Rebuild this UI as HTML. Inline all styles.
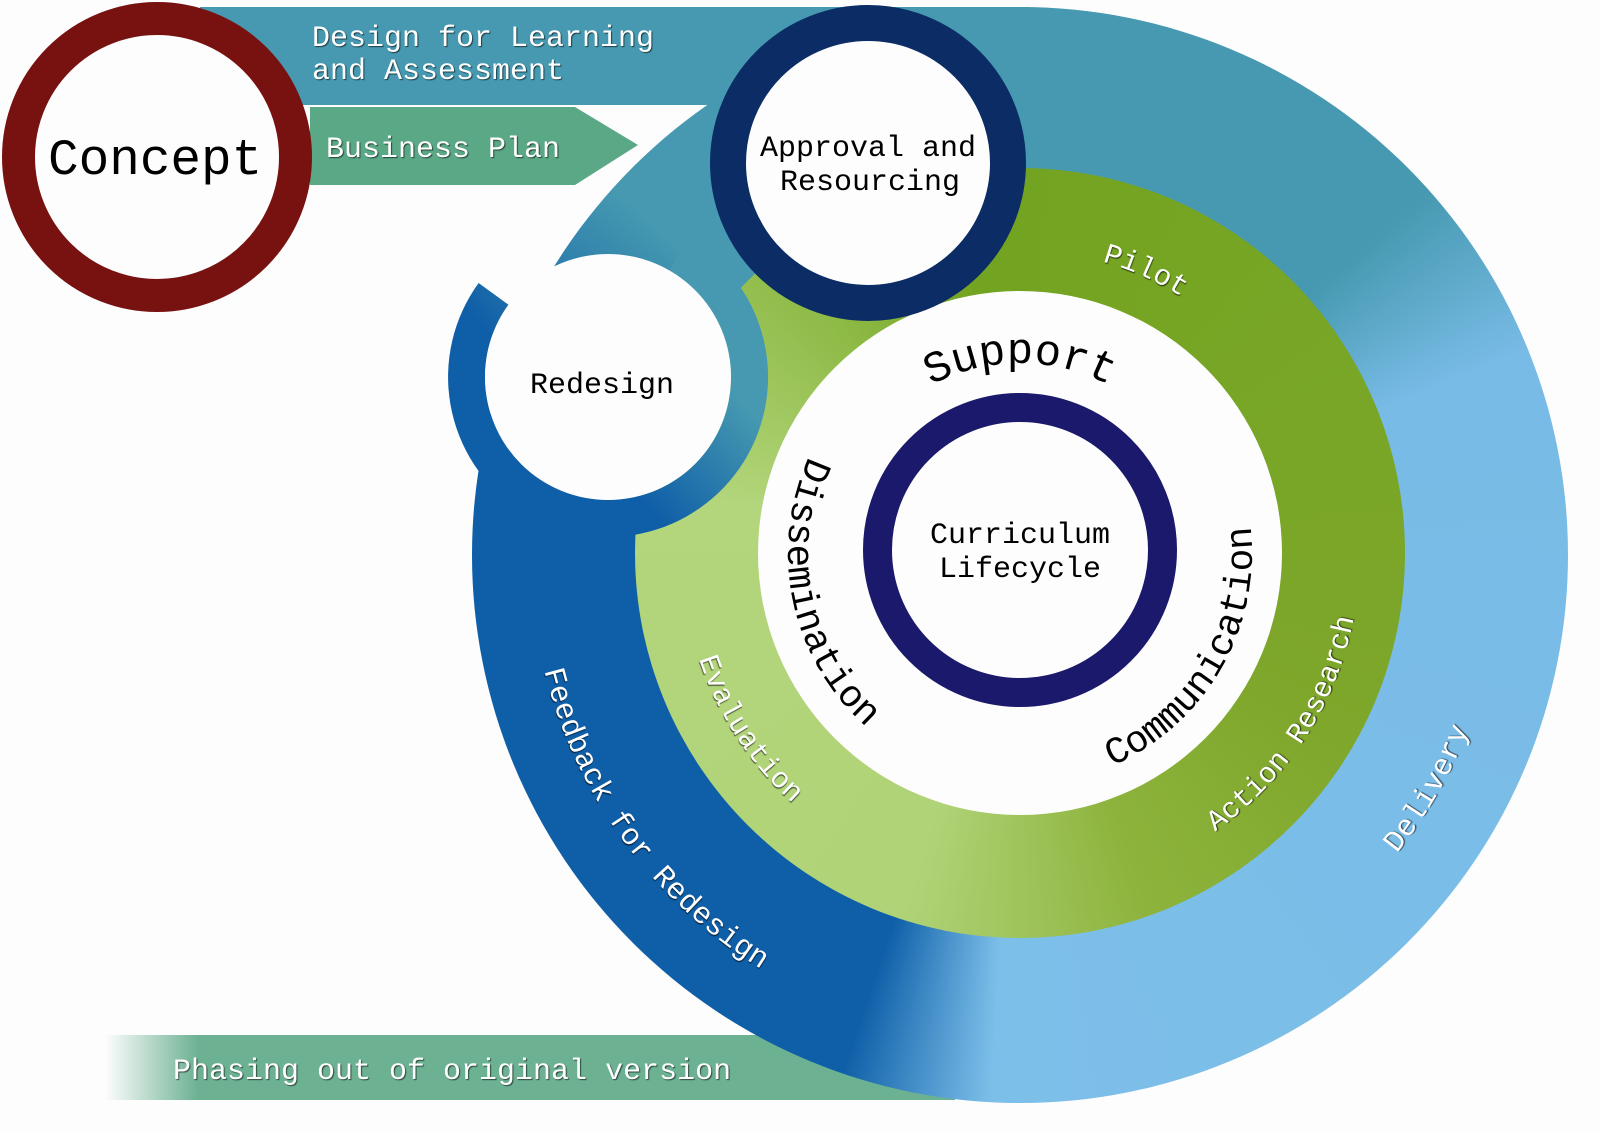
<!DOCTYPE html>
<html><head><meta charset="utf-8"><style>
html,body{margin:0;padding:0;background:#fdfdfd;}
#wrap{position:relative;width:1600px;height:1131px;overflow:hidden;background:#fdfdfd;}
svg{position:absolute;left:0;top:0;}
.ring{position:absolute;border-radius:50%;}
text{font-family:"Liberation Mono",monospace;}
.w{fill:#fff;text-shadow:1px 1px 1px rgba(0,0,0,0.6);}
.b{fill:#000;}
</style></head><body><div id="wrap">
<svg width="1600" height="1131" viewBox="0 0 1600 1131">
<defs>
<linearGradient id="ph" x1="105" y1="0" x2="955" y2="0" gradientUnits="userSpaceOnUse">
<stop offset="0" stop-color="#6bb192" stop-opacity="0"/>
<stop offset="0.11" stop-color="#6bb192" stop-opacity="1"/>
<stop offset="1" stop-color="#6bb192"/>
</linearGradient>
</defs>
<rect x="200" y="7" width="830" height="98" fill="#4699b0"/>
<polygon points="310,107 575,107 638,145 575,185 310,185" fill="#5aa886"/>
<rect x="105" y="1035" width="850" height="65" fill="url(#ph)"/>
</svg>
<div class="ring" style="left:472px;top:7px;width:1096px;height:1096px;background:conic-gradient(from 0deg,#4699b0 0deg,#4699b0 48deg,#78bbe6 68deg,#7cbfe9 183deg,#0f5fa8 199deg,#0f5ea8 290deg,#4699b0 312deg,#4699b0 360deg);"></div>
<div class="ring" style="left:635px;top:168px;width:770px;height:770px;background:conic-gradient(from 0deg,#73a421 0deg,#7ea72b 120deg,#8db33c 160deg,#b0d378 198deg,#b3d57b 280deg,#8fbb48 320deg,#73a421 350deg);"></div>
<svg width="1600" height="1131" viewBox="0 0 1600 1131">
<defs>
<linearGradient id="rd" x1="640" y1="500" x2="745" y2="405" gradientUnits="userSpaceOnUse">
<stop offset="0" stop-color="#0f5ea8"/>
<stop offset="1" stop-color="#4699b0"/>
</linearGradient>
<path id="pDis" d="M864.8,380.6 A232,232 0 0 0 948.3,773.7"/>
<path id="pCom" d="M1020,785 A232,232 0 0 0 1220.9,437"/>
<path id="pSup" d="M855.5,458 A190,190 0 0 1 1184.5,458"/>
<path id="pPil" d="M841.9,307.9 A303,303 0 0 1 1321.3,521.3"/>
<path id="pAct" d="M1002.2,892.5 A340,340 0 0 0 1322.9,398.6"/>
<path id="pDel" d="M1020,1035 A482,482 0 0 0 1437.4,312"/>
<path id="pEva" d="M718.8,399.6 A338,338 0 0 0 1037.7,890.5"/>
<path id="pFee" d="M572.4,353.7 A490,490 0 0 0 1071.2,1040.3"/>
</defs>
<circle cx="1020" cy="553" r="262" fill="#fdfdfd"/>
<circle cx="1020" cy="550" r="142.5" fill="#fdfdfd" stroke="#1b196b" stroke-width="29"/>
<path d="M688,238.4 A160,160 0 1 1 478.6,283 L508.5,304.7 A123,123 0 1 0 669.5,270.5 Z" fill="url(#rd)"/>
<circle cx="608" cy="377" r="123" fill="#fdfdfd"/>
<circle cx="868" cy="163" r="140" fill="#fdfdfd" stroke="#0b2c65" stroke-width="36"/>
<circle cx="157" cy="157" r="138.5" fill="#fdfdfd" stroke="#771211" stroke-width="33"/>

<text x="48" y="174" font-size="51" class="b">Concept</text>
<text x="312" y="46" font-size="30" class="w">Design for Learning</text>
<text x="312" y="79" font-size="30" class="w">and Assessment</text>
<text x="326" y="157" font-size="30" class="w">Business Plan</text>
<text x="173" y="1079" font-size="30" class="w">Phasing out of original version</text>
<text x="868" y="156" font-size="30" class="b" text-anchor="middle">Approval and</text>
<text x="870" y="190" font-size="30" class="b" text-anchor="middle">Resourcing</text>
<text x="602" y="393" font-size="30" class="b" text-anchor="middle">Redesign</text>
<text x="1020" y="543" font-size="30" class="b" text-anchor="middle">Curriculum</text>
<text x="1020" y="577" font-size="30" class="b" text-anchor="middle">Lifecycle</text>

<text font-size="44" class="b"><textPath href="#pSup" startOffset="50%" text-anchor="middle">Support</textPath></text>
<text font-size="38" class="b"><textPath href="#pDis" startOffset="50%" text-anchor="middle">Dissemination</textPath></text>
<text font-size="38" class="b"><textPath href="#pCom" startOffset="50%" text-anchor="middle">Communication</textPath></text>
<text font-size="29" class="w"><textPath href="#pPil" startOffset="50%" text-anchor="middle">Pilot</textPath></text>
<text font-size="29" class="w"><textPath href="#pAct" startOffset="50%" text-anchor="middle">Action Research</textPath></text>
<text font-size="29" class="w"><textPath href="#pEva" startOffset="50%" text-anchor="middle">Evaluation</textPath></text>
<text font-size="30" class="w"><textPath href="#pDel" startOffset="50%" text-anchor="middle">Delivery</textPath></text>
<text font-size="30" class="w"><textPath href="#pFee" startOffset="50%" text-anchor="middle">Feedback for Redesign</textPath></text>
</svg>
</div></body></html>
